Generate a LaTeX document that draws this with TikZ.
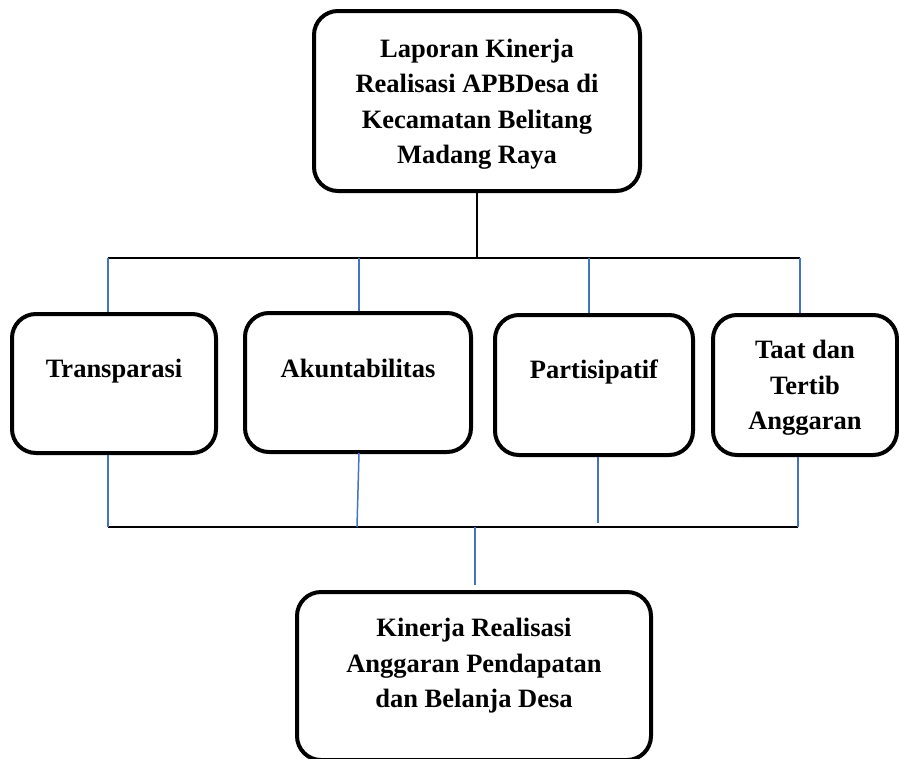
\documentclass[tikz,border=0pt]{standalone}
\usepackage{fontspec}
\setmainfont{Liberation Serif}
\definecolor{lineblue}{RGB}{68,114,196}
\begin{document}
\begin{tikzpicture}[x=1pt,y=-1pt,
  box/.style={draw=black,line width=4pt,rounded corners=24pt,minimum width=#1,inner sep=0pt},
  txt/.style={align=center,inner sep=0pt,font=\bfseries\fontsize{26.5}{35.5}\selectfont},
  blk/.style={draw=black,line width=1.5pt},
  blu/.style={draw=lineblue,line width=1.5pt}]
\useasboundingbox (0,0) rectangle (899,758);
% boxes
\node[box=326pt,minimum height=180pt] (top) at (477,101) {};
\node[box=204pt,minimum height=139pt] (tr) at (114,383.5) {};
\node[box=226pt,minimum height=139pt] (ak) at (358,382.5) {};
\node[box=198pt,minimum height=140pt] (pa) at (594,385) {};
\node[box=184pt,minimum height=140pt] (ta) at (805,385) {};
\node[box=354pt,minimum height=168pt] (bot) at (474,676) {};
% texts
\node[txt] (topt) at (477,104) {Laporan Kinerja\\Realisasi APBDesa di\\Kecamatan Belitang\\Madang Raya};
\node[txt,anchor=base] (trt) at (114,377) {Transparasi};
\node[txt,anchor=base] (akt) at (358,377) {Akuntabilitas};
\node[txt,anchor=base] (pat) at (594,378) {Partisipatif};
\node[txt] (tat) at (805,388) {Taat dan\\Tertib\\Anggaran};
\node[txt] (bott) at (474,666) {Kinerja Realisasi\\Anggaran Pendapatan\\dan Belanja Desa};
% top connectors
\coordinate (h1) at (108,258);
\coordinate (h2) at (359,258);
\coordinate (h3) at (589,258);
\coordinate (h4) at (800,258);
\coordinate (hm) at (477,258);
\draw[blk] (top.south) -- (hm);
\draw[blk] (h1) -- (h4);
\draw[blu] (h1) -- (h1 |- tr.north);
\draw[blu] (h2) -- (h2 |- ak.north);
\draw[blu] (h3) -- (h3 |- pa.north);
\draw[blu] (h4) -- (h4 |- ta.north);
% bottom connectors
\coordinate (b1) at (108,527);
\coordinate (b2) at (357,527);
\coordinate (b3) at (598,523);
\coordinate (b4) at (798,527);
\coordinate (bm) at (475,527);
\coordinate (bme) at (475,585);
\draw[blk] (b1) -- (b4);
\draw[blu] (b1 |- tr.south) -- (b1);
\draw[blu] (359,453) -- (b2);
\draw[blu] (b3 |- pa.south) -- (b3);
\draw[blu] (b4 |- ta.south) -- (b4);
\draw[blu] (bm) -- (bme);
\end{tikzpicture}
\end{document}
